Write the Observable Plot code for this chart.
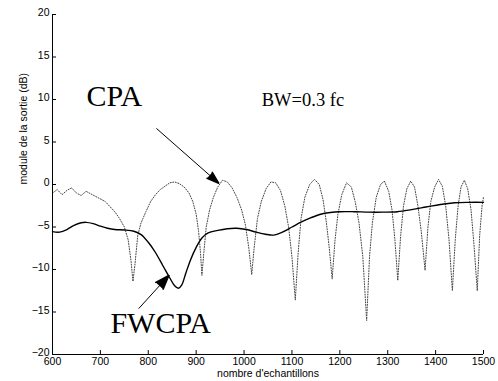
<!DOCTYPE html>
<html><head><meta charset="utf-8">
<script src="https://cdn.jsdelivr.net/npm/d3@7"></script>
<script src="https://cdn.jsdelivr.net/npm/@observablehq/plot@0.6"></script>
<style>html,body{margin:0;padding:0;background:#fff}</style>
</head><body><div id="chart"></div>
<script>
const xTicks = [600, 700, 800, 900, 1000, 1100, 1200, 1300, 1400, 1500];
const yTicks = [-20, -15, -10, -5, 0, 5, 10, 15, 20];

// CPA (dotted) : sample index and output level (dB)
const cpaX = [600,610,620,630,640,650,660,670,680,690,700,710,720,730,740,750,758,764,768,772,778,785,795,805,815,825,835,845,855,865,875,885,893,900,905,909,912,916,921,928,936,945,955,965,975,985,995,1003,1010,1016,1021,1028,1036,1046,1056,1066,1076,1085,1093,1100,1107,1113,1119,1127,1137,1147,1157,1165,1172,1178,1184,1190,1196,1204,1214,1224,1232,1240,1248,1256,1262,1268,1276,1285,1293,1302,1309,1315,1321,1327,1333,1340,1348,1356,1363,1370,1378,1384,1390,1398,1406,1414,1421,1428,1435,1441,1447,1453,1460,1467,1474,1480,1487,1492,1497,1500];
const cpaY = [-1.0,-0.6,-1.2,-0.7,-0.4,-1.0,-1.3,-0.8,-1.1,-1.4,-1.7,-2.0,-2.6,-3.2,-4.0,-5.0,-6.5,-9.0,-11.4,-9.5,-6.0,-4.5,-3.2,-2.0,-1.2,-0.6,-0.2,0.2,0.3,0.1,-0.3,-1.0,-2.0,-3.5,-5.5,-8.0,-10.7,-8.0,-5.0,-3.0,-1.5,-0.3,0.5,0.3,-0.4,-1.5,-3.0,-4.8,-7.5,-10.6,-7.5,-4.0,-2.0,-0.5,0.3,0.2,-0.7,-2.5,-5.0,-8.5,-13.6,-8.0,-4.0,-1.5,0.0,0.6,0.0,-1.8,-4.5,-7.5,-11.1,-6.5,-3.5,-1.2,0.2,-0.3,-2.0,-4.5,-8.5,-16.0,-8.5,-4.5,-1.5,0.0,0.4,-0.8,-3.0,-6.5,-11.3,-6.0,-2.5,-0.5,0.4,-0.3,-2.5,-5.5,-10.1,-5.0,-2.0,-0.3,0.6,-0.2,-2.5,-6.5,-12.5,-6.5,-2.5,-0.3,0.5,-0.5,-3.0,-7.0,-12.5,-6.0,-2.5,-1.5];

// FWCPA (solid)
const fwX = [600,615,630,645,660,670,685,700,715,730,750,770,785,800,815,830,845,855,863,870,878,888,900,912,925,945,965,985,1005,1025,1045,1062,1080,1100,1120,1140,1160,1180,1200,1230,1260,1290,1320,1350,1380,1410,1440,1470,1500];
const fwY = [-5.55,-5.6,-5.3,-4.8,-4.5,-4.45,-4.6,-4.9,-5.15,-5.3,-5.35,-5.5,-5.9,-6.8,-8.0,-9.5,-11.0,-11.9,-12.2,-11.8,-10.5,-8.9,-7.4,-6.3,-5.7,-5.4,-5.2,-5.15,-5.3,-5.6,-5.85,-5.95,-5.6,-5.0,-4.4,-3.9,-3.5,-3.3,-3.2,-3.2,-3.25,-3.25,-3.2,-2.95,-2.65,-2.35,-2.15,-2.1,-2.1];

// annotations
const noteText = ["CPA", "FWCPA", "BW=0.3 fc"];
const noteX = [729, 826, 1037];
const noteY = [9.2, -17.5, 9.2];
const noteSize = [30, 30, 18.5];
const noteAnchor = ["middle", "middle", "start"];
const arrowX1 = [817, 780];
const arrowY1 = [6.6, -14.6];
const arrowX2 = [947, 843];
const arrowY2 = [0.15, -10.7];
const arrowHead = [12, 14];
const arrowHalfWidth = [4, 5];

const xLabel = "nombre d'echantillons";
const yLabel = "module de la sortie (dB)";

const cpa = cpaX.map((x, i) => ({x, y: cpaY[i]}));
const fw = fwX.map((x, i) => ({x, y: fwY[i]}));
const notes = noteText.map((t, i) => ({t, x: noteX[i], y: noteY[i], s: noteSize[i], a: noteAnchor[i]}));

const base = {
  width: 498, height: 381,
  marginLeft: 52, marginRight: 15, marginTop: 14, marginBottom: 27,
  x: {domain: [600, 1500]},
  y: {domain: [-20, 20]},
  style: {fontFamily: "'Liberation Sans', Arial, sans-serif", fontSize: "10.5px", background: "#fff", color: "#000"}
};
const probe = Plot.plot({...base, marks: [Plot.ruleY([0])]});
const sx = probe.scale("x"), sy = probe.scale("y");
const arrows = arrowX1.map((x1, i) => {
  const dx = sx.apply(arrowX2[i]) - sx.apply(x1);
  const dy = sy.apply(arrowY2[i]) - sy.apply(arrowY1[i]);
  return {x1, y1: arrowY1[i], x2: arrowX2[i], y2: arrowY2[i],
    angle: Math.atan2(dx, -dy) * 180 / Math.PI};
});

const fmt = d => d < 0 ? "\u2212" + (-d) : String(d);

const marks = [
  Plot.line(cpa, {x: "x", y: "y", stroke: "#444", strokeWidth: 1, strokeDasharray: "1,1.6"}),
  Plot.line(fw, {x: "x", y: "y", stroke: "#000", strokeWidth: 1.4, curve: "catmull-rom"}),
  Plot.ruleX([600], {stroke: "#000"}),
  Plot.ruleY([-20], {stroke: "#000"}),
  Plot.axisX({ticks: xTicks, tickSize: -4, tickPadding: 7, tickFormat: fmt, label: null, fontSize: 10.5}),
  Plot.axisY({ticks: yTicks, tickSize: -4, tickFormat: () => "", label: null}),
  Plot.axisY({ticks: yTicks, tickSize: 0, tickPadding: 3, tickFormat: fmt, label: null, fontSize: 10.5, dy: -1.5}),
  Plot.text([yLabel], {frameAnchor: "left", rotate: -90, dx: -29, fontSize: 10.5}),
  Plot.text([xLabel], {frameAnchor: "bottom", dy: 22.5, fontSize: 10.5}),
  Plot.link(arrows, {x1: "x1", y1: "y1", x2: "x2", y2: "y2", stroke: "#000", strokeWidth: 1}),
  Plot.vector(arrows.filter((d, i) => i === 0), {x: "x2", y: "y2", rotate: "angle", length: arrowHead[0], r: arrowHalfWidth[0], shape: "spike", anchor: "end", fill: "#000", stroke: "#000"}),
  Plot.vector(arrows.filter((d, i) => i === 1), {x: "x2", y: "y2", rotate: "angle", length: arrowHead[1], r: arrowHalfWidth[1], shape: "spike", anchor: "end", fill: "#000", stroke: "#000"}),
  ...notes.map(n => Plot.text([n], {x: "x", y: "y", text: "t", fontSize: n.s, textAnchor: n.a, lineAnchor: "bottom", fontFamily: "'Liberation Serif', 'Times New Roman', serif"}))
];

document.getElementById("chart").appendChild(Plot.plot({...base, marks}));
</script>
</body></html>
